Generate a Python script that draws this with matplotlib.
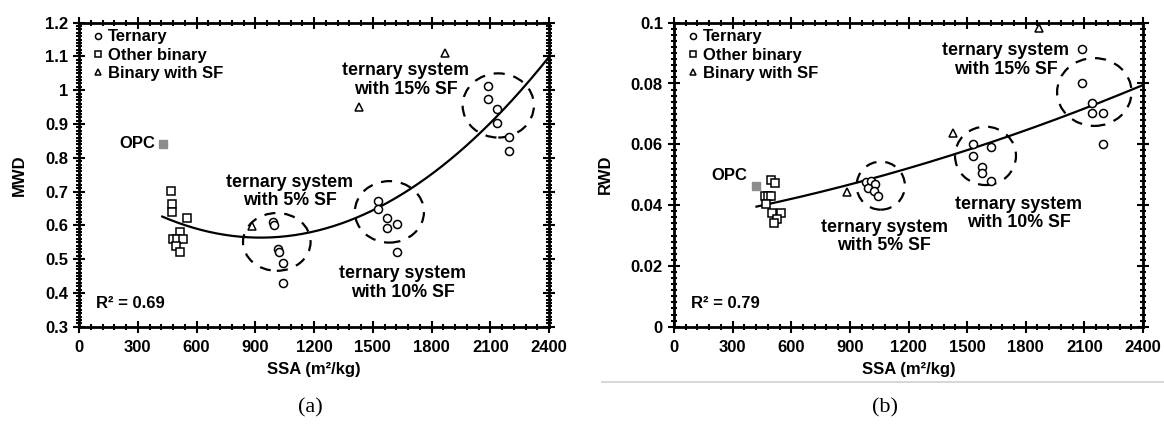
import numpy as np
import matplotlib
matplotlib.use("Agg")
import matplotlib.pyplot as plt
from matplotlib.patches import Ellipse
from matplotlib.ticker import MultipleLocator, FuncFormatter
from matplotlib.lines import Line2D

plt.rcParams['font.family'] = ['Liberation Sans', 'DejaVu Sans']
plt.rcParams['font.weight'] = 'bold'

# ---------------- Panel (a): MWD ----------------
a_ternary_x = [990, 995, 1015, 1020, 1043, 1043,
               1528, 1528, 1571, 1571, 1622, 1622,
               2087, 2087, 2136, 2136, 2197, 2197]
a_ternary_y = [0.611, 0.600, 0.530, 0.520, 0.489, 0.430,
               0.673, 0.648, 0.621, 0.591, 0.603, 0.520,
               1.012, 0.973, 0.944, 0.902, 0.862, 0.821]
a_binary_x = [468, 475, 475, 553, 516, 481, 500, 532, 495, 516]
a_binary_y = [0.703, 0.663, 0.640, 0.621, 0.581, 0.559, 0.559, 0.559, 0.540, 0.520]
a_sf_x = [885, 1430, 1869]
a_sf_y = [0.598, 0.950, 1.111]
a_opc = (427, 0.841)
a_fit_coef = [0.2468e-6, -0.4579e-3, 0.7761]   # quadratic trend
a_fit_range = (425, 2400)
a_r2 = "R² = 0.69"
a_groups = [  # (cx, cy, width, height)
    (1010, 0.551, 345, 0.171),
    (1585, 0.640, 353, 0.182),
    (2141, 0.955, 364, 0.190),
]
a_labels = [("ternary system\nwith 5% SF", 1077, 0.700),
            ("ternary system\nwith 10% SF", 1652, 0.429),
            ("ternary system\nwith 15% SF", 1667, 1.030)]

# ---------------- Panel (b): RWD ----------------
b_ternary_x = [985, 1010, 1030, 995, 1025, 1045,
               1532, 1532, 1623, 1575, 1575, 1623,
               2086, 2086, 2137, 2137, 2196, 2196]
b_ternary_y = [0.0475, 0.0480, 0.0470, 0.0455, 0.0445, 0.0430,
               0.0601, 0.0563, 0.0592, 0.0526, 0.0505, 0.0480,
               0.0912, 0.0803, 0.0735, 0.0702, 0.0702, 0.0601]
b_binary_x = [495, 515, 465, 480, 495, 470, 500, 550, 525, 510]
b_binary_y = [0.0483, 0.0474, 0.0430, 0.0430, 0.0430, 0.0405, 0.0373, 0.0373, 0.0353, 0.0342]
b_sf_x = [884, 1430, 1868]
b_sf_y = [0.0444, 0.0638, 0.0982]
b_opc = (422, 0.0464)
b_fit_coef = [0.00332e-6, 0.01085e-3, 0.03433]
b_fit_range = (422, 2400)
b_r2 = "R² = 0.79"
b_groups = [
    (1058, 0.0464, 247, 0.0158),
    (1594, 0.0562, 312, 0.0192),
    (2151, 0.0772, 381, 0.0223),
]
b_labels = [("ternary system\nwith 5% SF", 1075, 0.0296),
            ("ternary system\nwith 10% SF", 1765, 0.0372),
            ("ternary system\nwith 15% SF", 1696, 0.0877)]

fig = plt.figure(figsize=(11.64, 4.32), dpi=100)
axA = fig.add_axes([79/1164, (432-326.7)/432, 470/1164, 304/432])
axB = fig.add_axes([674/1164, (432-326.7)/432, 469/1164, 304/432])

FS = 12
mk = dict(linestyle='none', markerfacecolor='white', markeredgecolor='black',
          markeredgewidth=1.1, markersize=5.8)


def draw(ax, tx, ty, bx, by, sx, sy, opc, coef, frange, r2, groups, labels,
         ylim, ymajor, yminor, ylabel, opc_text_xy, r2_xy):
    for (cx, cy, w, h) in groups:
        e = Ellipse((cx, cy), w, h, fill=False, edgecolor='black', lw=1.6,
                    linestyle=(0, (5, 4)), zorder=2)
        ax.add_patch(e)
    xs = np.linspace(frange[0], frange[1], 200)
    ax.plot(xs, np.polyval(coef, xs), color='black', lw=1.6, zorder=3)
    ax.plot(tx, ty, marker='o', label='Ternary', zorder=4, **mk)
    ax.plot(bx, by, marker='s', label='Other binary', zorder=4, **mk)
    ax.plot(sx, sy, marker='^', label='Binary with SF', zorder=4,
            **{**mk, 'markersize': 5.5})
    ax.plot([opc[0]], [opc[1]], marker='s', linestyle='none', color='#8c8c8c',
            markersize=5.5, zorder=4)
    ax.text(opc_text_xy[0], opc_text_xy[1], 'OPC', ha='right', va='center',
            fontsize=FS, fontweight='bold')
    ax.text(r2_xy[0], r2_xy[1], r2, ha='left', va='center', fontsize=FS,
            fontweight='bold')
    for (t, x, y) in labels:
        ax.text(x, y, t, ha='center', va='center', fontsize=12.8,
                fontweight='bold', linespacing=1.1)
    ax.set_xlim(0, 2400)
    ax.set_ylim(*ylim)
    ax.xaxis.set_major_locator(MultipleLocator(300))
    ax.xaxis.set_minor_locator(MultipleLocator(60))
    ax.yaxis.set_major_locator(MultipleLocator(ymajor))
    ax.yaxis.set_minor_locator(MultipleLocator(yminor))
    ax.yaxis.set_major_formatter(FuncFormatter(lambda v, p: ('%.3f' % v).rstrip('0').rstrip('.')))
    ax.tick_params(which='both', direction='inout', top=True, right=True,
                   labelsize=FS, width=1.5)
    ax.tick_params(which='major', length=9)
    ax.tick_params(which='minor', length=5)
    ax.tick_params(axis='x', pad=5)
    for lab in ax.get_xticklabels() + ax.get_yticklabels():
        lab.set_fontweight('bold')
    for s in ax.spines.values():
        s.set_linewidth(2)
    ax.set_xlabel('SSA (m²/kg)', fontsize=FS, fontweight='bold', labelpad=5)
    ax.set_ylabel(ylabel, fontsize=FS, fontweight='bold', labelpad=13)
    leg = ax.legend(loc='upper left', bbox_to_anchor=(0.032, 0.978),
                    frameon=False, fontsize=FS, handlelength=0.5,
                    handletextpad=0.35, labelspacing=0.2, borderpad=0,
                    borderaxespad=0, markerscale=0.75)
    for t in leg.get_texts():
        t.set_fontweight('bold')


draw(axA, a_ternary_x, a_ternary_y, a_binary_x, a_binary_y, a_sf_x, a_sf_y,
     a_opc, a_fit_coef, a_fit_range, a_r2, a_groups, a_labels,
     (0.3, 1.2), 0.1, 0.01, 'MWD', (388, 0.841), (87, 0.37))
draw(axB, b_ternary_x, b_ternary_y, b_binary_x, b_binary_y, b_sf_x, b_sf_y,
     b_opc, b_fit_coef, b_fit_range, b_r2, b_groups, b_labels,
     (0, 0.1), 0.02, 0.002, 'RWD', (374, 0.0499), (85, 0.0077))

fig.add_artist(Line2D([602/1164, 1.0], [1 - 381.5/432, 1 - 381.5/432],
                      color='#d0d0d0', lw=1.2))
fig.text(310/1164, 1 - 408/432, '(a)', ha='center', va='center',
         fontsize=16, family='Liberation Serif', fontweight='normal')
fig.text(885/1164, 1 - 408/432, '(b)', ha='center', va='center',
         fontsize=16, family='Liberation Serif', fontweight='normal')

fig.savefig('out.png', dpi=100)
